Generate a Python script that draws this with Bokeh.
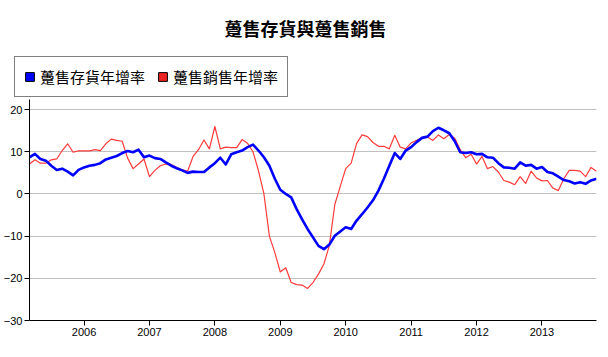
from bokeh.plotting import figure
from bokeh.layouts import column
from bokeh.models import (Range1d, FixedTicker, PrintfTickFormatter, Legend,
                          LegendItem, Label)
from bokeh.embed import file_html
from bokeh.resources import INLINE

# ---- data (monthly, Mar 2005 .. Nov 2013) ----
start_year = 2005
start_month = 3

inventory_yoy = [
    8.7, 9.5, 8.3, 7.9, 6.7, 5.7, 6.0, 5.3, 4.4, 5.7,                   # 2005 Mar-Dec
    6.3, 6.7, 6.9, 7.3, 8.2, 8.6, 9.0, 9.7, 10.2, 9.9, 10.5, 8.7,       # 2006
    9.1, 8.5, 8.3, 7.5, 6.7, 6.1, 5.6, 5.0, 5.3, 5.2, 5.2, 6.3,         # 2007
    7.3, 8.6, 7.0, 9.4, 9.9, 10.3, 11.1, 11.7, 10.3, 8.7, 6.7, 3.6,     # 2008
    1.0, 0.0, -0.8, -3.6, -6.0, -8.3, -10.3, -12.3, -13.1, -12.0, -9.9, -8.9,  # 2009
    -7.9, -8.3, -6.3, -4.8, -3.2, -1.5, 0.8, 3.6, 6.7, 9.7, 8.3, 10.3,  # 2010
    11.1, 12.3, 13.3, 13.6, 14.9, 15.7, 15.1, 14.4, 12.5, 9.9, 9.7, 9.9,  # 2011
    9.4, 9.5, 8.7, 8.6, 7.3, 6.3, 6.2, 6.0, 7.5, 6.7, 6.9, 6.0,         # 2012
    6.4, 5.2, 4.9, 4.1, 3.3, 3.0, 2.5, 2.8, 2.4, 3.2, 3.6,              # 2013 Jan-Nov
]

sales_yoy = [
    7.1, 8.1, 7.3, 7.3, 8.1, 8.3, 10.3, 11.9, 9.9, 10.2,                # 2005 Mar-Dec
    10.2, 10.2, 10.5, 10.3, 11.9, 13.0, 12.7, 12.5, 8.5, 6.0, 7.1, 8.3,  # 2006
    4.1, 5.6, 6.7, 7.1, 7.0, 6.3, 5.7, 5.4, 8.9, 10.5, 12.8, 10.7,      # 2007
    16.0, 10.7, 11.1, 11.0, 11.0, 12.9, 12.0, 10.0, 5.5, 0.0, -10.0, -13.9,  # 2008
    -18.5, -17.5, -21.0, -21.5, -21.6, -22.4, -21.0, -19.0, -16.6, -12.2, -2.5, 1.8,  # 2009
    6.0, 7.3, 12.0, 14.0, 13.6, 12.2, 11.3, 11.3, 10.7, 13.9, 11.1, 10.7,  # 2010
    12.1, 12.7, 13.3, 13.5, 12.7, 14.0, 13.1, 14.1, 13.2, 10.5, 8.6, 9.4,  # 2011
    7.1, 8.9, 6.0, 6.5, 5.2, 3.2, 2.8, 2.2, 4.1, 2.5, 5.4, 3.8,         # 2012
    3.1, 3.2, 1.4, 0.8, 3.6, 5.6, 5.6, 5.4, 4.1, 6.3, 5.4,              # 2013 Jan-Nov
]

year_ticks = [2006, 2007, 2008, 2009, 2010, 2011, 2012, 2013]
y_ticks = [-30, -20, -10, 0, 10, 20]

title_text = "躉售存貨與躉售銷售"
label_inventory = "躉售存貨年增率"
label_sales = "躉售銷售年增率"

# decimal-year x positions for each month
x = [start_year + (start_month - 1 + i) / 12.0 for i in range(len(inventory_yoy))]

CJK = "Noto Sans CJK TC"
LAT = "Liberation Sans"
BLUE = "#0000ff"
RED_LINE = "#ff3a3a"
RED_BOX = "#ee2222"

# ---------------- header: title + legend ----------------
head = figure(width=608, height=99, output_backend="svg", toolbar_location=None,
              x_range=Range1d(0, 608), y_range=Range1d(99, 0),
              x_axis_type=None, y_axis_type=None, min_border=0)
head.frame_align = False
head.outline_line_color = None
head.grid.visible = False
head.background_fill_color = "white"
head.border_fill_color = "white"

head.add_layout(Label(x=305, y=27.5, text=title_text, text_align="center",
                      text_baseline="middle", text_font=CJK,
                      text_font_size="18px", text_font_style="bold",
                      text_color="black"))

# legend swatches: squares kept outside the visible area, shown only in legend
sw_inv = head.quad(left=[-50], right=[-40], top=[-50], bottom=[-40],
                   fill_color=BLUE, line_color="#000000", line_width=1)
sw_sales = head.quad(left=[-50], right=[-40], top=[-50], bottom=[-40],
                     fill_color=RED_BOX, line_color="#000000", line_width=1)

legend = Legend(items=[LegendItem(label=label_inventory, renderers=[sw_inv]),
                       LegendItem(label=label_sales, renderers=[sw_sales])],
                orientation="horizontal", location=(14, 2))
legend.label_text_font = CJK
legend.label_text_font_size = "15px"
legend.label_text_color = "black"
legend.glyph_width = 11
legend.glyph_height = 11
legend.label_standoff = 5
legend.spacing = 12
legend.padding = 9
legend.margin = 0
legend.border_line_color = "black"
legend.border_line_width = 1
legend.background_fill_color = "white"
legend.background_fill_alpha = 1
head.add_layout(legend)

# ---------------- main chart ----------------
p = figure(width=608, height=258, output_backend="svg", toolbar_location=None,
           x_range=Range1d(x[0], x[-1]), y_range=Range1d(-30, 22.4),
           min_border_left=28, min_border_right=12, min_border_top=0,
           min_border_bottom=37)
p.frame_align = False
p.outline_line_color = None
p.background_fill_color = "white"
p.border_fill_color = "white"

for ax in (p.xaxis, p.yaxis):
    ax.axis_line_color = "black"
    ax.axis_line_width = 1
    ax.major_tick_line_color = "black"
    ax.major_tick_out = 5
    ax.major_tick_in = 0
    ax.minor_tick_line_color = None
    ax.major_label_text_font = LAT
    ax.major_label_text_font_size = "11px"
    ax.major_label_text_color = "black"
    ax.major_label_standoff = 2

p.xaxis.ticker = FixedTicker(ticks=year_ticks)
p.xaxis.formatter = PrintfTickFormatter(format="%d")
p.yaxis.ticker = FixedTicker(ticks=y_ticks)

p.xgrid.grid_line_color = None
p.ygrid.grid_line_color = "#c0c0c0"
p.ygrid.grid_line_width = 1

p.line(x, sales_yoy, line_color=RED_LINE, line_width=1.2, line_join="round")
p.line(x, inventory_yoy, line_color=BLUE, line_width=2.6, line_join="round")

layout = column(head, p, spacing=0)
open("out.html", "w").write(file_html(layout, INLINE))
